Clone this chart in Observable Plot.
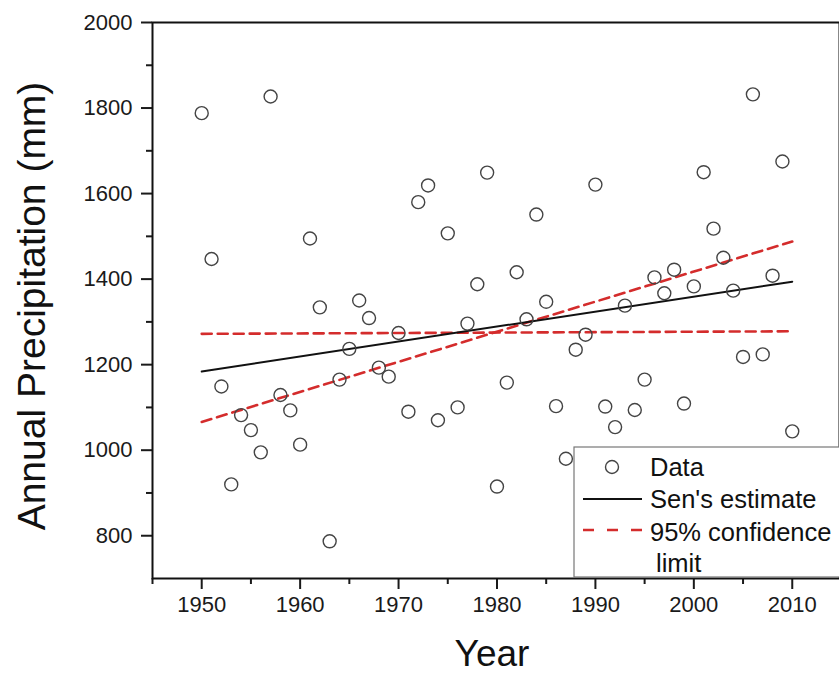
<!DOCTYPE html>
<html>
<head>
<meta charset="utf-8">
<script src="https://cdn.jsdelivr.net/npm/d3@7"></script>
<script src="https://cdn.jsdelivr.net/npm/@observablehq/plot@0.6"></script>
<style>
  html, body { margin: 0; padding: 0; background: white; }
  #chart { width: 839px; height: 673px; }
</style>
</head>
<body>
<div id="chart"></div>
<script>
// ---- data ----
const years = d3.range(1950, 2011);
const precipitation = [
  1788, 1447, 1149, 920, 1082, 1047, 995, 1827, 1129, 1093,
  1013, 1495, 1334, 787, 1165, 1237, 1350, 1309, 1193, 1172,
  1274, 1090, 1580, 1619, 1070, 1507, 1100, 1296, 1388, 1649,
  915, 1158, 1416, 1306, 1551, 1347, 1103, 980, 1235, 1270,
  1621, 1102, 1054, 1338, 1094, 1165, 1404, 1367, 1422, 1109,
  1383, 1650, 1518, 1450, 1373, 1218, 1832, 1224, 1408, 1675,
  1044
];
const lineYears = [1950, 2010];
const senEstimate = [1184, 1394];
const confUpper = [1066, 1488];
const confLower = [1272, 1278];

const xMajorTicks = [1950, 1960, 1970, 1980, 1990, 2000, 2010];
const xMinorTicks = [1945, 1955, 1965, 1975, 1985, 1995, 2005];
const yMajorTicks = [800, 1000, 1200, 1400, 1600, 1800, 2000];
const yMinorTicks = [900, 1100, 1300, 1500, 1700, 1900];

const xTitle = "Year";
const yTitle = "Annual Precipitation (mm)";
const legendLabels = ["Data", "Sen's estimate", "95% confidence", "limit"];

// ---- tables ----
const points = years.map((year, i) => ({year, value: precipitation[i]}));
const toLine = vals => lineYears.map((year, i) => ({year, value: vals[i]}));
const sen = toLine(senEstimate);
const upper = toLine(confUpper);
const lower = toLine(confLower);

const RED = "#d42c2c";
const FONT = "'Liberation Sans', Arial, sans-serif";

const chart = Plot.plot({
  width: 839,
  height: 673,
  marginLeft: 152,
  marginRight: 0,
  marginTop: 22,
  marginBottom: 95,
  x: {domain: [1945, 2014.8]},
  y: {domain: [700, 2000]},
  style: {fontFamily: FONT, fontSize: "22px", color: "#1a1a1a", background: "white"},
  marks: [
    Plot.line(lower, {x: "year", y: "value", stroke: RED, strokeWidth: 2.6, strokeDasharray: "10,6"}),
    Plot.line(upper, {x: "year", y: "value", stroke: RED, strokeWidth: 2.6, strokeDasharray: "10,6"}),
    Plot.line(sen, {x: "year", y: "value", stroke: "#111", strokeWidth: 2}),
    Plot.dot(points, {x: "year", y: "value", r: 6.5, stroke: "#444", strokeWidth: 1.4, fill: "none"}),
    Plot.axisX(xMinorTicks, {tickSize: 6, strokeWidth: 2, tickFormat: () => "", label: null}),
    Plot.axisX(xMajorTicks, {tickSize: 11, strokeWidth: 2, tickPadding: 7, tickFormat: d => String(d), label: null}),
    Plot.axisY(yMinorTicks, {tickSize: 6, strokeWidth: 2, tickFormat: () => "", label: null}),
    Plot.axisY(yMajorTicks, {tickSize: 11, strokeWidth: 2, tickPadding: 9, tickFormat: d => String(d), label: null}),
    Plot.frame({stroke: "#111", strokeWidth: 2})
  ]
});

document.getElementById("chart").append(chart);

// ---- titles and legend (added to the same SVG) ----
const svg = d3.select(chart);
svg.selectAll('g[aria-label$="tick label"]').attr("font-size", 22).attr("fill", "#1a1a1a");

svg.append("text")
  .attr("transform", "translate(45,306) rotate(-90)")
  .attr("text-anchor", "middle")
  .attr("font-family", FONT)
  .attr("font-size", 39)
  .attr("fill", "#111")
  .text(yTitle);

svg.append("text")
  .attr("x", 492)
  .attr("y", 666)
  .attr("text-anchor", "middle")
  .attr("font-family", FONT)
  .attr("font-size", 37)
  .attr("fill", "#111")
  .text(xTitle);

const lg = svg.append("g").attr("text-anchor", "start");
lg.append("rect")
  .attr("x", 574).attr("y", 447).attr("width", 275).attr("height", 130)
  .attr("fill", "white").attr("stroke", "#777").attr("stroke-width", 1.2);
lg.append("circle")
  .attr("cx", 612).attr("cy", 467).attr("r", 6.5)
  .attr("fill", "none").attr("stroke", "#444").attr("stroke-width", 1.4);
lg.append("line")
  .attr("x1", 583).attr("x2", 642).attr("y1", 499).attr("y2", 499)
  .attr("stroke", "#111").attr("stroke-width", 2);
lg.append("line")
  .attr("x1", 583).attr("x2", 643).attr("y1", 530).attr("y2", 530)
  .attr("stroke", RED).attr("stroke-width", 2.6).attr("stroke-dasharray", "11,13");
const textPos = [[650, 476], [650, 508], [650, 541], [656, 572]];
legendLabels.forEach((t, i) => {
  lg.append("text")
    .attr("x", textPos[i][0]).attr("y", textPos[i][1])
    .attr("text-anchor", "start")
    .attr("font-family", FONT).attr("font-size", 25.5).attr("fill", "#111")
    .text(t);
});
</script>
</body>
</html>
